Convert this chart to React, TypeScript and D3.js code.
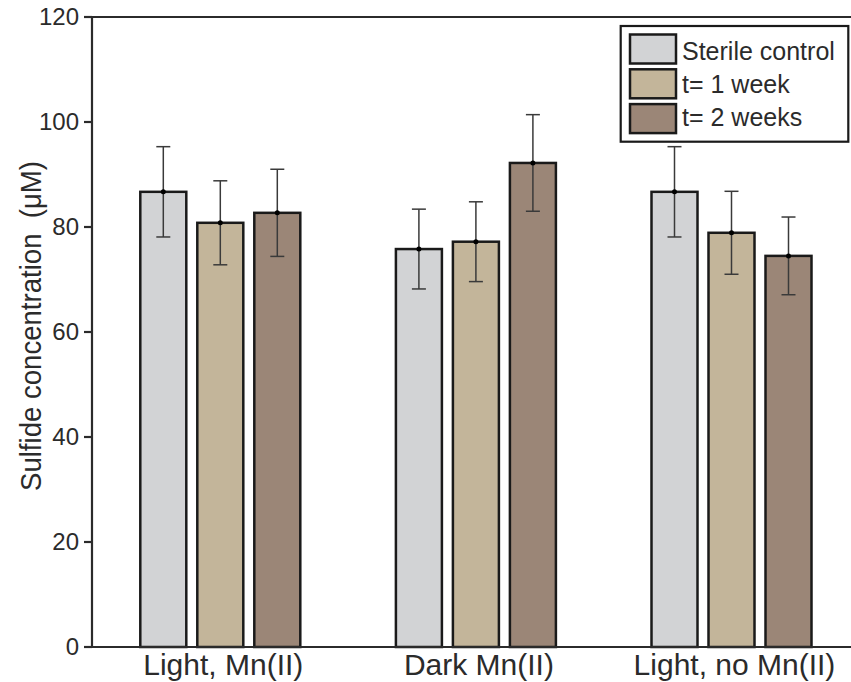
import React from "react";
import * as d3 from "d3";

const categories = ["Light, Mn(II)", "Dark Mn(II)", "Light, no Mn(II)"];
const seriesNames = ["Sterile control", "t= 1 week", "t= 2 weeks"];
const seriesColors = ["#d2d3d5", "#c3b59a", "#9b8677"];
// values[series][category]
const sterileValues = [86.7, 75.8, 86.7];
const week1Values = [80.8, 77.2, 78.9];
const week2Values = [82.7, 92.2, 74.5];
const sterileErrors = [8.6, 7.6, 8.6];
const week1Errors = [8.0, 7.6, 7.9];
const week2Errors = [8.3, 9.2, 7.4];
const yTicks = [0, 20, 40, 60, 80, 100, 120];
const yLabel = "Sulfide concentration  (\u03bcM)";

const seriesValues = [sterileValues, week1Values, week2Values];
const seriesErrors = [sterileErrors, week1Errors, week2Errors];

const FONT = "'Liberation Sans', Arial, sans-serif";

export default function App() {
  const W = 851;
  const H = 682;
  const left = 92;
  const top = 17;
  const bottom = 647;

  const y = d3.scaleLinear().domain([0, 120]).range([bottom, top]);
  const x0 = d3.scaleBand<string>().domain(categories).range([92.5, 859.3]).padding(0);
  const groupW = 160;
  const x1 = d3
    .scaleBand<string>()
    .domain(seriesNames)
    .range([0, groupW])
    .paddingInner(11 / 57)
    .paddingOuter(0);
  const gx = (c: string) => (x0(c) as number) + (x0.bandwidth() - groupW) / 2;

  return (
    <svg
      width={W}
      height={H}
      style={{ position: "absolute", left: 0, top: 0, background: "#fff" }}
      fontFamily={FONT}
    >
      {/* bars */}
      {categories.map((c, ci) =>
        seriesNames.map((s, si) => {
          const v = seriesValues[si][ci];
          const bx = gx(c) + (x1(s) as number);
          return (
            <rect
              key={c + s}
              x={bx}
              y={y(v)}
              width={x1.bandwidth()}
              height={y(0) - y(v)}
              fill={seriesColors[si]}
              stroke="#1a1a1a"
              strokeWidth={2.5}
            />
          );
        })
      )}
      {/* error bars */}
      {categories.map((c, ci) =>
        seriesNames.map((s, si) => {
          const v = seriesValues[si][ci];
          const e = seriesErrors[si][ci];
          const cx = gx(c) + (x1(s) as number) + x1.bandwidth() / 2;
          return (
            <g key={"e" + c + s} stroke="#3a3a3a" strokeWidth={1.5}>
              <line x1={cx} x2={cx} y1={y(v + e)} y2={y(v - e)} />
              <line x1={cx - 7} x2={cx + 7} y1={y(v + e)} y2={y(v + e)} />
              <line x1={cx - 7} x2={cx + 7} y1={y(v - e)} y2={y(v - e)} />
              <circle cx={cx} cy={y(v)} r={2.5} fill="#000" stroke="none" />
            </g>
          );
        })
      )}
      {/* axes */}
      <g stroke="#2b2b2b" strokeWidth={2.2}>
        <line x1={left} x2={W} y1={top} y2={top} />
        <line x1={left} x2={W} y1={bottom} y2={bottom} />
        <line x1={left} x2={left} y1={top} y2={bottom} />
        {yTicks.map((t) => (
          <line key={"t" + t} x1={left - 8} x2={left} y1={y(t)} y2={y(t)} />
        ))}
      </g>
      {yTicks.map((t) => (
        <text
          key={"l" + t}
          x={79}
          y={y(t)}
          dy="0.35em"
          textAnchor="end"
          fontSize={24}
          fill="#2b2b2b"
        >
          {t}
        </text>
      ))}
      {categories.map((c) => (
        <text
          key={"c" + c}
          x={(x0(c) as number) + x0.bandwidth() / 2 + 3}
          y={675}
          textAnchor="middle"
          fontSize={30}
          fill="#2b2b2b"
        >
          {c}
        </text>
      ))}
      <text
        transform={`translate(41, 326) rotate(-90)`}
        textAnchor="middle"
        fontSize={30}
        textLength={330}
        lengthAdjust="spacingAndGlyphs"
        fill="#2b2b2b"
        style={{ whiteSpace: "pre" }}
      >
        {yLabel}
      </text>
      {/* legend */}
      <rect x={620.7} y={26} width={227.6} height={115.7} fill="#fff" stroke="#1a1a1a" strokeWidth={2.2} />
      {seriesNames.map((s, i) => (
        <g key={"lg" + s}>
          <rect
            x={630}
            y={34.5 + i * 34.8}
            width={46}
            height={29}
            fill={seriesColors[i]}
            stroke="#1a1a1a"
            strokeWidth={2.5}
          />
          <text x={682} y={60 + i * 33} fontSize={25} fill="#2b2b2b">
            {s}
          </text>
        </g>
      ))}
    </svg>
  );
}
